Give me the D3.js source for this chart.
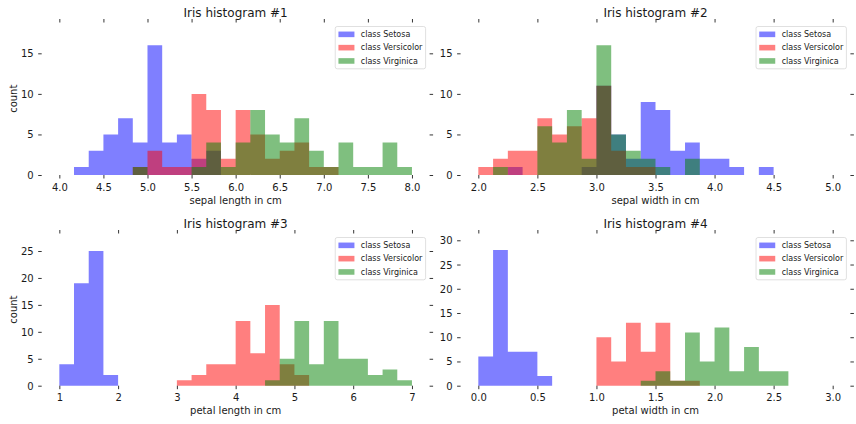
<!DOCTYPE html>
<html><head><meta charset="utf-8">
<script src="https://cdn.jsdelivr.net/npm/d3@7"></script>
<style>
body{margin:0;background:#fff}
svg text{font-family:"DejaVu Sans",sans-serif;fill:#1a1a1a}
</style>
</head><body><svg id="chart" width="856" height="424"></svg>
<script>
// ---------- data ----------
const classNames = ["class Setosa", "class Versicolor", "class Virginica"];
const classColors = ["blue", "red", "green"];
const titles = ["Iris histogram #1", "Iris histogram #2", "Iris histogram #3", "Iris histogram #4"];
const featureLabels = ["sepal length in cm", "sepal width in cm", "petal length in cm", "petal width in cm"];
const binMin = [4, 2, 1, 0];
const binMax = [8, 5, 7, 3];
const binCount = 24;

const xTicks1 = [4.0, 4.5, 5.0, 5.5, 6.0, 6.5, 7.0, 7.5, 8.0];
const xTicks2 = [2.0, 2.5, 3.0, 3.5, 4.0, 4.5, 5.0];
const xTicks3 = [1, 2, 3, 4, 5, 6, 7];
const xTicks4 = [0.0, 0.5, 1.0, 1.5, 2.0, 2.5, 3.0];
const yTicks1 = [0, 5, 10, 15];
const yTicks2 = [0, 5, 10, 15];
const yTicks3 = [0, 5, 10, 15, 20, 25];
const yTicks4 = [0, 5, 10, 15, 20, 25, 30];

// counts per bin (24 bins each)
const sepalLengthSetosa     = [0,1,3,5,7,4,16,4,5,2,3,0,0,0,0,0,0,0,0,0,0,0,0,0];
const sepalLengthVersicolor = [0,0,0,0,0,1,3,1,1,10,8,2,8,5,2,3,4,1,1,0,0,0,0,0];
const sepalLengthVirginica  = [0,0,0,0,0,1,0,0,0,1,4,1,4,8,5,4,7,3,1,4,1,1,4,1];

const sepalWidthSetosa      = [0,0,1,0,0,0,0,1,11,5,2,9,8,3,4,2,2,1,0,1,0,0,0,0];
const sepalWidthVersicolor  = [1,2,3,3,7,5,6,7,11,3,1,1,0,0,0,0,0,0,0,0,0,0,0,0];
const sepalWidthVirginica   = [0,1,0,0,6,4,8,2,16,5,3,2,1,0,2,0,0,0,0,0,0,0,0,0];

const petalLengthSetosa     = [4,19,25,2,0,0,0,0,0,0,0,0,0,0,0,0,0,0,0,0,0,0,0,0];
const petalLengthVersicolor = [0,0,0,0,0,0,0,0,1,2,4,4,12,6,15,4,2,0,0,0,0,0,0,0];
const petalLengthVirginica  = [0,0,0,0,0,0,0,0,0,0,0,0,0,0,1,5,12,4,12,5,5,2,3,1];

const petalWidthSetosa      = [6,28,7,7,2,0,0,0,0,0,0,0,0,0,0,0,0,0,0,0,0,0,0,0];
const petalWidthVersicolor  = [0,0,0,0,0,0,0,0,10,5,13,7,13,1,1,0,0,0,0,0,0,0,0,0];
const petalWidthVirginica   = [0,0,0,0,0,0,0,0,0,0,0,1,3,1,11,5,12,3,8,3,3,0,0,0];

// ---------- assembly ----------
const panelCounts = [
  [sepalLengthSetosa, sepalLengthVersicolor, sepalLengthVirginica],
  [sepalWidthSetosa, sepalWidthVersicolor, sepalWidthVirginica],
  [petalLengthSetosa, petalLengthVersicolor, petalLengthVirginica],
  [petalWidthSetosa, petalWidthVersicolor, petalWidthVirginica]
];
const panelXTicks = [xTicks1, xTicks2, xTicks3, xTicks4];
const panelYTicks = [yTicks1, yTicks2, yTicks3, yTicks4];
const panelFmt = [d3.format(".1f"), d3.format(".1f"), d3.format("d"), d3.format(".1f")];

// layout (pixels)
const cols = [[41.7, 429.6], [460.6, 850.4]];
const rows = [[22.5, 175], [233.5, 385.7]];

const svg = d3.select("#chart");
const fontFamily = '"DejaVu Sans", sans-serif';

panelCounts.forEach((series, p) => {
  const [x0, x1] = cols[p % 2];
  const [y0, y1] = rows[Math.floor(p / 2)];
  const lo = binMin[p], hi = binMax[p];
  const span = hi - lo;
  const x = d3.scaleLinear().domain([lo - 0.05 * span, hi + 0.05 * span]).range([x0, x1]);
  const maxCount = d3.max(series.flat());
  const y = d3.scaleLinear().domain([0, maxCount * 1.05 + 2]).range([y1, y0]);
  const edges = d3.range(binCount + 1).map(i => lo + i * span / binCount);

  const g = svg.append("g");

  // bars: one path per class
  series.forEach((counts, c) => {
    const path = d3.path();
    counts.forEach((v, i) => {
      if (v <= 0) return;
      const xa = x(edges[i]), xb = x(edges[i + 1]);
      path.moveTo(xa, y(0));
      path.lineTo(xb, y(0));
      path.lineTo(xb, y(v));
      path.lineTo(xa, y(v));
      path.closePath();
    });
    g.append("path").attr("d", path.toString())
      .attr("fill", classColors[c]).attr("fill-opacity", 0.5).attr("stroke", "none");
  });

  const styleAxis = sel => {
    sel.select(".domain").remove();
    sel.attr("font-family", fontFamily).attr("font-size", 10).attr("color", "#000");
    sel.selectAll(".tick line").attr("stroke-width", 0.8);
    sel.selectAll(".tick text").attr("fill", "#1a1a1a");
  };

  const xt = panelXTicks[p], yt = panelYTicks[p];
  g.append("g").attr("transform", `translate(0,${y1})`)
    .call(d3.axisBottom(x).tickValues(xt).tickSize(3.5).tickPadding(5).tickFormat(panelFmt[p])).call(styleAxis);
  g.append("g").attr("transform", `translate(0,${y0})`)
    .call(d3.axisTop(x).tickValues(xt).tickSize(3.5).tickFormat("")).call(styleAxis);
  g.append("g").attr("transform", `translate(${x0},0)`)
    .call(d3.axisLeft(y).tickValues(yt).tickSize(3.5).tickPadding(4.5).tickFormat(d3.format("d"))).call(styleAxis);
  g.append("g").attr("transform", `translate(${x1},0)`)
    .call(d3.axisRight(y).tickValues(yt).tickSize(3.5).tickFormat("")).call(styleAxis);
  g.selectAll(".tick text").filter(function(){return this.textContent!=="";}).attr("dy", function(){
    return d3.select(this.parentNode.parentNode).attr("transform").startsWith("translate(0,") ? "0.71em" : "0.35em";
  });

  // title
  g.append("text").attr("x", (x0 + x1) / 2).attr("y", y0 - 6)
    .attr("text-anchor", "middle").attr("font-size", 12).text(titles[p]);
  // x label
  g.append("text").attr("x", (x0 + x1) / 2).attr("y", y1 + 28.7)
    .attr("text-anchor", "middle").attr("font-size", 10).text(featureLabels[p]);
  // y label
  if (p % 2 === 0) {
    g.append("text").attr("transform", `translate(16.5,${(y0 + y1) / 2}) rotate(-90)`)
      .attr("text-anchor", "middle").attr("font-size", 10).text("count");
  }

  // legend
  const fs = 8;
  const lg = g.append("g");
  const boxRight = x1 - 4, boxTop = y0 + 4;
  const rowH = 9.3, gap = 4, pad = 3.2;
  const texts = [];
  classNames.forEach((name, c) => {
    const cy = boxTop + pad + rowH / 2 + c * (rowH + gap);
    const t = lg.append("text").attr("y", cy).attr("dy", "0.35em")
      .attr("font-size", fs).text(name);
    texts.push({t, cy, c});
  });
  const textW = d3.max(texts, d => d.t.node().getComputedTextLength());
  const boxW = pad + 16 + 6.4 + textW + pad;
  const boxLeft = boxRight - boxW;
  const boxH = pad * 2 + rowH * 3 + gap * 2;
  lg.insert("rect", ":first-child").attr("x", boxLeft).attr("y", boxTop)
    .attr("width", boxW).attr("height", boxH).attr("rx", 2).attr("ry", 2)
    .attr("fill", "#fff").attr("fill-opacity", 0.5)
    .attr("stroke", "#cccccc").attr("stroke-opacity", 0.6).attr("stroke-width", 1);
  texts.forEach(({t, cy, c}) => {
    t.attr("x", boxLeft + pad + 16 + 6.4);
    lg.append("rect").attr("x", boxLeft + pad).attr("y", cy - 2.8)
      .attr("width", 16).attr("height", 5.6)
      .attr("fill", classColors[c]).attr("fill-opacity", 0.5);
  });
});
</script>
</body></html>
